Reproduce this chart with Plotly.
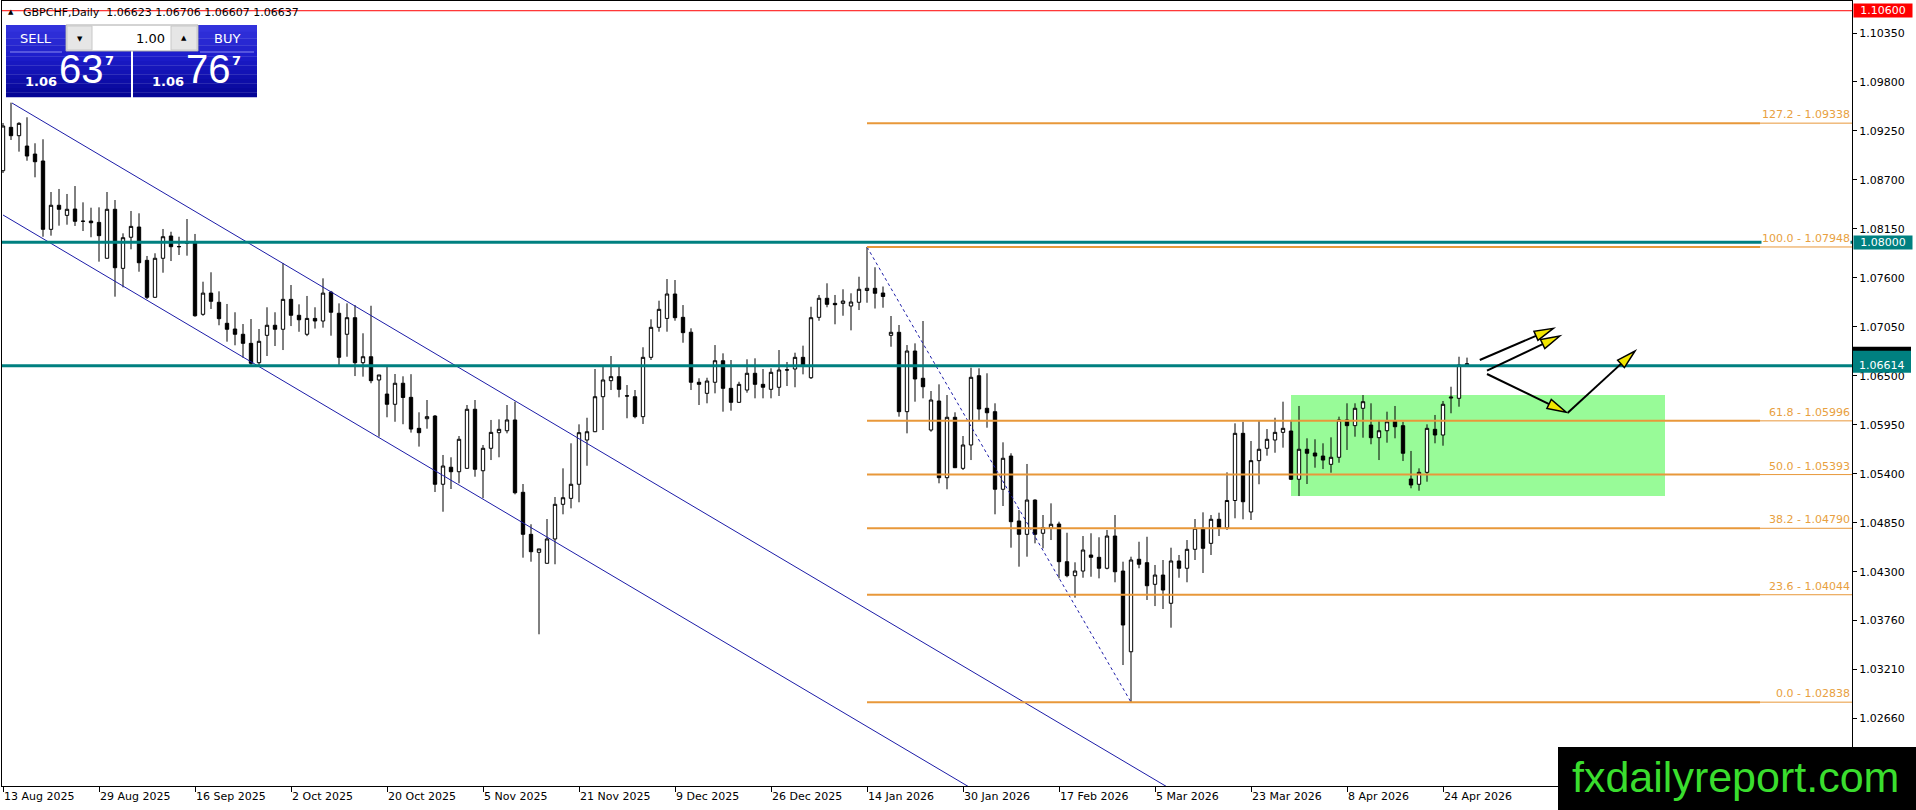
import plotly.graph_objects as go

# ---------------- data ----------------
SYMBOL = "GBPCHF,Daily"
LAST_OHLC = [1.06623, 1.06706, 1.06607, 1.06637]
BID, ASK, LOT = 1.06637, 1.06767, "1.00"

OPEN = [1.08804, 1.09291, 1.09197, 1.09081, 1.08991, 1.08913, 1.08146, 1.08416, 1.08303, 1.08374,
        1.08238, 1.08239, 1.08224, 1.07821, 1.08371, 1.07708, 1.08057, 1.08172, 1.07798, 1.07383,
        1.07821, 1.08071, 1.07953, 1.07989, 1.08007, 1.07192, 1.07430, 1.07327, 1.07091, 1.07027,
        1.06968, 1.06866, 1.06649, 1.06956, 1.07069, 1.07024, 1.07360, 1.07181, 1.06968, 1.07146,
        1.07117, 1.07441, 1.07204, 1.06968, 1.07154, 1.06649, 1.06716, 1.06455, 1.06297, 1.06182,
        1.06418, 1.06260, 1.05912, 1.06020, 1.06050, 1.05284, 1.05475, 1.05425, 1.05463, 1.06126,
        1.05436, 1.05688, 1.05863, 1.05885, 1.06006, 1.05194, 1.04722, 1.04520, 1.04397, 1.04670,
        1.05059, 1.05126, 1.05284, 1.05781, 1.05874, 1.06267, 1.06447, 1.06492, 1.06277, 1.06267,
        1.06043, 1.06709, 1.07046, 1.07146, 1.07420, 1.07158, 1.06991, 1.06429, 1.06305, 1.06429,
        1.06671, 1.06361, 1.06204, 1.06342, 1.06530, 1.06406, 1.06350, 1.06373, 1.06569, 1.06578,
        1.06709, 1.06480, 1.07158, 1.07372, 1.07315, 1.07315, 1.07285, 1.07327, 1.07459, 1.07484,
        1.07431, 1.06956, 1.06990, 1.06099, 1.06780, 1.06474, 1.05893, 1.06219, 1.05358, 1.06036,
        1.05463, 1.05725, 1.06503, 1.06137, 1.06099, 1.05228, 1.05601, 1.04872, 1.04722, 1.05107,
        1.04734, 1.04790, 1.04838, 1.04415, 1.04258, 1.04310, 1.04490, 1.04464, 1.04341, 1.04703,
        1.04310, 1.03404, 1.04442, 1.04404, 1.04161, 1.04265, 1.03948, 1.04423, 1.04341, 1.04554,
        1.04790, 1.04621, 1.04891, 1.04796, 1.05102, 1.05856, 1.04973, 1.05549, 1.05688, 1.05781,
        1.05867, 1.05882, 1.05340, 1.05677, 1.05635, 1.05601, 1.05508, 1.05587, 1.06006, 1.05942,
        1.06137, 1.05949, 1.05807, 1.05885, 1.05994, 1.05942, 1.05343, 1.05284, 1.05418, 1.05901,
        1.05837, 1.06252, 1.06249, 1.06623]
HIGH = [1.09340, 1.09568, 1.09348, 1.09404, 1.09112, 1.09157, 1.08565, 1.08599, 1.08543, 1.08632,
        1.08449, 1.08389, 1.08393, 1.08565, 1.08475, 1.08101, 1.08352, 1.08326, 1.07847, 1.07877,
        1.08150, 1.08119, 1.08063, 1.08262, 1.08094, 1.07558, 1.07664, 1.07450, 1.07308, 1.07215,
        1.07083, 1.07139, 1.07027, 1.07271, 1.07215, 1.07768, 1.07521, 1.07304, 1.07398, 1.07271,
        1.07596, 1.07455, 1.07315, 1.07315, 1.07296, 1.06979, 1.07288, 1.06511, 1.06623, 1.06522,
        1.06496, 1.06520, 1.06092, 1.06230, 1.06061, 1.05613, 1.05587, 1.05826, 1.06174, 1.06230,
        1.05725, 1.06006, 1.06013, 1.06174, 1.06211, 1.05287, 1.04835, 1.04558, 1.04894, 1.05141,
        1.05463, 1.05744, 1.05957, 1.06031, 1.06578, 1.06623, 1.06724, 1.06612, 1.06398, 1.06342,
        1.06822, 1.07136, 1.07345, 1.07588, 1.07577, 1.07296, 1.07035, 1.06474, 1.06480, 1.06847,
        1.06754, 1.06679, 1.06435, 1.06687, 1.06698, 1.06578, 1.06586, 1.06791, 1.06657, 1.06761,
        1.06840, 1.07277, 1.07409, 1.07540, 1.07409, 1.07473, 1.07428, 1.07614, 1.07948, 1.07720,
        1.07504, 1.07173, 1.07072, 1.06847, 1.06866, 1.07117, 1.06331, 1.06406, 1.06286, 1.06092,
        1.05826, 1.06593, 1.06586, 1.06530, 1.06193, 1.05755, 1.05632, 1.04995, 1.05512, 1.05115,
        1.04939, 1.05070, 1.04864, 1.04740, 1.04408, 1.04703, 1.04734, 1.04689, 1.04771, 1.04939,
        1.04415, 1.04471, 1.04639, 1.04695, 1.04378, 1.04434, 1.04572, 1.04490, 1.04658, 1.04894,
        1.04969, 1.04939, 1.04965, 1.05418, 1.05968, 1.05986, 1.05770, 1.05994, 1.05904, 1.06031,
        1.06211, 1.06006, 1.06163, 1.05800, 1.05789, 1.05744, 1.05811, 1.06043, 1.06193, 1.06193,
        1.06286, 1.06193, 1.06006, 1.06099, 1.06163, 1.05986, 1.05658, 1.05463, 1.05957, 1.06062,
        1.06219, 1.06379, 1.06716, 1.06706]
LOW = [1.08778, 1.09149, 1.09018, 1.08916, 1.08730, 1.08063, 1.08075, 1.08187, 1.08198, 1.08184,
       1.08127, 1.08057, 1.07783, 1.07818, 1.07390, 1.07495, 1.07922, 1.07670, 1.07364, 1.07380,
       1.07659, 1.07790, 1.07858, 1.07850, 1.07165, 1.07176, 1.07252, 1.07069, 1.06885, 1.06844,
       1.06705, 1.06620, 1.06620, 1.06724, 1.06836, 1.06791, 1.07060, 1.06996, 1.06947, 1.07032,
       1.07042, 1.06952, 1.06620, 1.06716, 1.06499, 1.06492, 1.06418, 1.05818, 1.06036, 1.05986,
       1.05958, 1.05864, 1.05707, 1.05908, 1.05197, 1.04976, 1.05231, 1.05295, 1.05460, 1.05369,
       1.05127, 1.05556, 1.05587, 1.05856, 1.05171, 1.04460, 1.04415, 1.03600, 1.04395, 1.04386,
       1.04947, 1.05014, 1.05082, 1.05492, 1.05870, 1.05893, 1.06342, 1.06260, 1.06025, 1.06025,
       1.05961, 1.06679, 1.06997, 1.06997, 1.07120, 1.06873, 1.06342, 1.06174, 1.06193, 1.06305,
       1.06099, 1.06110, 1.06200, 1.06312, 1.06249, 1.06249, 1.06249, 1.06275, 1.06387, 1.06373,
       1.06518, 1.06466, 1.07120, 1.07271, 1.07080, 1.07176, 1.07012, 1.07240, 1.07322, 1.07257,
       1.07266, 1.06828, 1.06043, 1.05856, 1.06211, 1.06249, 1.05874, 1.05295, 1.05228, 1.05468,
       1.05444, 1.05556, 1.05998, 1.05919, 1.04947, 1.05040, 1.04572, 1.04359, 1.04471, 1.04621,
       1.04565, 1.04658, 1.04228, 1.04240, 1.04011, 1.04235, 1.04246, 1.04228, 1.04329, 1.04184,
       1.03255, 1.02838, 1.04341, 1.03985, 1.03917, 1.03884, 1.03674, 1.04235, 1.04184, 1.04434,
       1.04288, 1.04490, 1.04703, 1.04771, 1.04902, 1.04891, 1.04883, 1.05284, 1.05605, 1.05638,
       1.05695, 1.05332, 1.05152, 1.05287, 1.05470, 1.05455, 1.05414, 1.05526, 1.05669, 1.05818,
       1.05807, 1.05733, 1.05556, 1.05751, 1.05800, 1.05545, 1.05239, 1.05212, 1.05313, 1.05744,
       1.05717, 1.06081, 1.06155, 1.06607]
CLOSE = [1.09306, 1.09197, 1.09336, 1.08969, 1.08905, 1.08146, 1.08416, 1.08371, 1.08371, 1.08236,
         1.08236, 1.08220, 1.08075, 1.08371, 1.07715, 1.08052, 1.08179, 1.07771, 1.07383, 1.07821,
         1.08063, 1.07951, 1.07951, 1.08007, 1.07176, 1.07430, 1.07338, 1.07143, 1.07024, 1.06968,
         1.06866, 1.06642, 1.06889, 1.07069, 1.07024, 1.07360, 1.07181, 1.07131, 1.07146, 1.07117,
         1.07430, 1.07215, 1.06709, 1.07154, 1.06649, 1.06716, 1.06447, 1.06511, 1.06182, 1.06418,
         1.06258, 1.05904, 1.05863, 1.06043, 1.05284, 1.05489, 1.05425, 1.05789, 1.06126, 1.05452,
         1.05688, 1.05867, 1.05901, 1.06006, 1.05189, 1.04722, 1.04527, 1.04558, 1.04670, 1.05059,
         1.05133, 1.05284, 1.05863, 1.05874, 1.06267, 1.06455, 1.06492, 1.06350, 1.06275, 1.06043,
         1.06709, 1.07046, 1.07248, 1.07420, 1.07154, 1.06986, 1.06429, 1.06406, 1.06443, 1.06671,
         1.06361, 1.06204, 1.06406, 1.06530, 1.06406, 1.06373, 1.06541, 1.06567, 1.06567, 1.06709,
         1.06612, 1.07154, 1.07372, 1.07304, 1.07300, 1.07341, 1.07330, 1.07473, 1.07484, 1.07428,
         1.07392, 1.06990, 1.06099, 1.06780, 1.06466, 1.06379, 1.06230, 1.05358, 1.06036, 1.05470,
         1.05725, 1.06485, 1.06129, 1.06087, 1.05228, 1.05576, 1.04864, 1.04722, 1.05107, 1.04722,
         1.04796, 1.04835, 1.04415, 1.04258, 1.04310, 1.04546, 1.04464, 1.04341, 1.04703, 1.04302,
         1.03704, 1.04434, 1.04386, 1.04145, 1.04265, 1.04097, 1.04423, 1.04341, 1.04554, 1.04790,
         1.04565, 1.04891, 1.04796, 1.05102, 1.05856, 1.05088, 1.05549, 1.05677, 1.05789, 1.05867,
         1.05912, 1.05340, 1.05677, 1.05632, 1.05601, 1.05556, 1.05587, 1.06006, 1.05942, 1.06137,
         1.06211, 1.05807, 1.05885, 1.05986, 1.05930, 1.05632, 1.05276, 1.05418, 1.05912, 1.05837,
         1.06182, 1.06262, 1.06623, 1.06637]

X_TICK_LABELS = ["13 Aug 2025", "29 Aug 2025", "16 Sep 2025", "2 Oct 2025", "20 Oct 2025",
                 "5 Nov 2025", "21 Nov 2025", "9 Dec 2025", "26 Dec 2025", "14 Jan 2026",
                 "30 Jan 2026", "17 Feb 2026", "5 Mar 2026", "23 Mar 2026", "8 Apr 2026",
                 "24 Apr 2026"]
BARS_PER_TICK = 12
Y_TICKS = [1.10350, 1.09800, 1.09250, 1.08700, 1.08150, 1.07600, 1.07050, 1.06500,
           1.05950, 1.05400, 1.04850, 1.04300, 1.03760, 1.03210, 1.02660]

FIB_RATIOS = ["127.2", "100.0", "61.8", "50.0", "38.2", "23.6", "0.0"]
FIB_PRICES = [1.09338, 1.07948, 1.05996, 1.05393, 1.04790, 1.04044, 1.02838]
FIB_HIGH_BAR, FIB_LOW_BAR = 108, 141
TEAL_LEVELS = [1.08000, 1.06614]
RED_LEVEL = 1.10600

CH_UPPER = (1.125, 1.09564)    # anchor bar, price
CH_LOWER = (0.0, 1.08307)
CH_SLOPE = -0.0005317          # price per bar
CH_END_BAR = 170

ZONE = dict(x0=161, x1=207.75, y0=1.05152, y1=1.06286)
ARROWS = [((184.6, 1.06679), (193.8, 1.07035)),
          ((185.5, 1.06559), (194.6, 1.06949)),
          ((185.5, 1.06522), (195.4, 1.06092)),
          ((195.6, 1.06087), (204.0, 1.06780))]

# ---------------- geometry / style ----------------
W, H = 1916, 810
PL, PR, PT, PB = 2, 1852, 1, 786
BAR_PX = 8
X0 = -0.125
X1 = X0 + (PR - PL) / BAR_PX
PX_PER_PRICE = 8908.0
Y_TOP = 1.1035 + (33 - PT) / PX_PER_PRICE
Y_BOT = 1.1035 - (PB - 33) / PX_PER_PRICE

TEAL = "#008080"
ORANGE = "#e8983a"
FIB_TXT = "#e8a040"
BLUE = "#1c1ca8"
FONT = "DejaVu Sans"


def pxx(px):
    return (px - PL) / (PR - PL)


def pxy(py):
    return (PB - py) / (PB - PT)


def d2p(i, p):
    return (PL + (i - X0) * BAR_PX, PT + (Y_TOP - p) * PX_PER_PRICE)


def p2d(px, py):
    return (X0 + (px - PL) / BAR_PX, Y_TOP - (py - PT) / PX_PER_PRICE)


shapes = []
annotations = []


def rect_px(x0, y0, x1, y1, fill, line=None, lw=1, layer="above"):
    shapes.append(dict(type="rect", xref="paper", yref="paper", x0=pxx(x0), x1=pxx(x1),
                       y0=pxy(y0), y1=pxy(y1), fillcolor=fill, layer=layer,
                       line=dict(color=line or fill, width=lw if line else 0)))


def line_px(x0, y0, x1, y1, color, width=1):
    shapes.append(dict(type="line", xref="paper", yref="paper", x0=pxx(x0), x1=pxx(x1),
                       y0=pxy(y0), y1=pxy(y1), layer="above", line=dict(color=color, width=width)))


def text_px(x, y, text, size, color="black", xanchor="center", yanchor="middle",
            family=FONT, bg=None, width=None, align="center"):
    a = dict(xref="paper", yref="paper", x=pxx(x), y=pxy(y), text=text, showarrow=False,
             xanchor=xanchor, yanchor=yanchor, font=dict(family=family, size=size, color=color),
             borderpad=0, align=align)
    if bg:
        a["bgcolor"] = bg
    if width:
        a["width"] = width
    annotations.append(a)


fig = go.Figure()

# zone rectangle (background)
shapes.append(dict(type="rect", xref="x", yref="y", x0=ZONE["x0"], x1=ZONE["x1"],
                   y0=ZONE["y0"], y1=ZONE["y1"], fillcolor="#98fb98", layer="below",
                   line=dict(width=0)))

n = len(OPEN)
fig.add_trace(go.Candlestick(
    x=list(range(n)), open=OPEN, high=HIGH, low=LOW, close=CLOSE,
    increasing=dict(line=dict(color="black", width=1), fillcolor="white"),
    decreasing=dict(line=dict(color="black", width=1), fillcolor="black"),
    whiskerwidth=0, showlegend=False, hoverinfo="skip"))

# channel lines
for (b, p) in (CH_UPPER, CH_LOWER):
    fig.add_trace(go.Scatter(x=[b, CH_END_BAR], y=[p, p + CH_SLOPE * (CH_END_BAR - b)],
                             mode="lines", line=dict(color=BLUE, width=1),
                             showlegend=False, hoverinfo="skip"))
# fib trend line (dotted)
fig.add_trace(go.Scatter(x=[FIB_HIGH_BAR, FIB_LOW_BAR], y=[FIB_PRICES[1], FIB_PRICES[-1]],
                         mode="lines", line=dict(color=BLUE, width=1, dash="dot"),
                         showlegend=False, hoverinfo="skip"))

# horizontal lines
shapes.append(dict(type="line", xref="paper", yref="y", x0=0, x1=1, y0=RED_LEVEL, y1=RED_LEVEL,
                   layer="above", line=dict(color="#ff0000", width=1)))
for p in TEAL_LEVELS:
    shapes.append(dict(type="line", xref="paper", yref="y", x0=0, x1=1, y0=p, y1=p,
                       layer="above", line=dict(color=TEAL, width=3)))
fib_break = p2d(1760, 0)[0]
for r, p in zip(FIB_RATIOS, FIB_PRICES):
    shapes.append(dict(type="line", xref="x", yref="y", x0=FIB_HIGH_BAR, x1=fib_break, y0=p, y1=p,
                       layer="above", line=dict(color=ORANGE, width=2)))
    shapes.append(dict(type="line", xref="x", yref="y", x0=fib_break, x1=X1, y0=p, y1=p,
                       layer="above", line=dict(color=ORANGE, width=1)))
    annotations.append(dict(xref="paper", yref="y", x=pxx(1851), y=p, text=f"{r} - {p:.5f}",
                            showarrow=False, xanchor="right", yanchor="bottom", yshift=1,
                            borderpad=0, bgcolor="white",
                            font=dict(family=FONT, size=11, color=FIB_TXT)))

# arrows
for (s, t) in ARROWS:
    sx, sy = d2p(*s)
    tx, ty = d2p(*t)
    dx, dy = tx - sx, ty - sy
    ln = (dx * dx + dy * dy) ** 0.5
    ux, uy = dx / ln, dy / ln
    hl, hw = 19, 5
    bx, by = tx - ux * hl, ty - uy * hl
    v1 = p2d(bx - uy * hw, by + ux * hw)
    v2 = p2d(bx + uy * hw, by - ux * hw)
    b = p2d(bx, by)
    shapes.append(dict(type="line", xref="x", yref="y", x0=s[0], y0=s[1], x1=b[0], y1=b[1],
                       layer="above", line=dict(color="black", width=2)))
    path = f"M {t[0]},{t[1]} L {v1[0]},{v1[1]} L {v2[0]},{v2[1]} Z"
    shapes.append(dict(type="path", xref="x", yref="y", path=path, fillcolor="#f2e600",
                       layer="above", line=dict(color="black", width=1.5)))

# header text
text_px(22, 12.5, f"{SYMBOL}  " + " ".join(f"{v:.5f}" for v in LAST_OHLC), 11,
        xanchor="left")
text_px(11, 12, "▲", 7)


# trade panel
def gradient(x0, y0, x1, y1, c0, c1, steps=10):
    for k in range(steps):
        f = k / (steps - 1)
        c = tuple(int(round(a + (b - a) * f)) for a, b in zip(c0, c1))
        ya = y0 + (y1 - y0) * k / steps
        yb = y0 + (y1 - y0) * (k + 1) / steps
        rect_px(x0, ya, x1, yb + 0.3, f"rgb{c}")


gradient(6, 25, 131, 52, (50, 50, 220), (35, 35, 205), 4)
gradient(133, 25, 257, 52, (50, 50, 220), (35, 35, 205), 4)
gradient(6, 52, 131, 97, (30, 30, 205), (5, 5, 150), 10)
gradient(133, 52, 257, 97, (30, 30, 205), (5, 5, 150), 10)
line_px(10, 52, 62, 52, "#8a8af0", 1)
line_px(200, 52, 254, 52, "#8a8af0", 1)
rect_px(66, 25, 198, 51, "#ffffff", "#a8a8a8", 1)
rect_px(67, 26, 92, 50, "#e6e6e6", "#c8c8c8", 1)
rect_px(171, 26, 197, 50, "#e6e6e6", "#c8c8c8", 1)
text_px(36, 39, "SELL", 13, "white")
text_px(227, 39, "BUY", 13, "white")
text_px(166, 38.5, LOT, 13, "black", xanchor="right")
text_px(80, 39, "▼", 7)
text_px(184, 38, "▲", 7)
bs, as_ = f"{BID:.5f}", f"{ASK:.5f}"
for x_off, s in ((0, bs), (127, as_)):
    text_px(41 + x_off, 82, f"<b>{s[:4]}</b>", 13, "white")
    text_px(81 + x_off, 69, s[4:6], 40, "white", family="Liberation Sans")
    text_px(109 + x_off, 61, f"<b>{s[6]}</b>", 13, "white")

# price labels on the axis
text_px(1853, 10.5, f"{RED_LEVEL:.5f}", 11, "white", xanchor="left", bg="#ff0000", width=58)
_, py80 = d2p(0, TEAL_LEVELS[0])
text_px(1853, py80, f"{TEAL_LEVELS[0]:.5f}", 11, "white", xanchor="left", bg=TEAL, width=58)
_, py66 = d2p(0, TEAL_LEVELS[1])
rect_px(1853, py66 - 19, 1911, py66 - 14, "black")
rect_px(1853, py66 - 15, 1911, py66 + 7, TEAL)
text_px(1882, py66, f"{TEAL_LEVELS[1]:.5f}", 11, "white")

# logo
rect_px(1558, 747, 1916, 810, "black")
text_px(1735, 777, "fxdailyreport.com", 43, "#3ade2e", family="Liberation Sans")

fig.update_layout(
    width=W, height=H, margin=dict(l=PL, r=W - PR, t=PT, b=H - PB),
    paper_bgcolor="white", plot_bgcolor="white", boxgap=0.4,
    shapes=shapes, annotations=annotations, showlegend=False,
    xaxis=dict(range=[X0, X1], tickvals=[k * BARS_PER_TICK for k in range(len(X_TICK_LABELS))],
               ticktext=X_TICK_LABELS, ticks="outside", ticklen=5, tickcolor="black",
               showline=True, linecolor="black", linewidth=1, mirror=True, showgrid=False,
               zeroline=False, ticklabelposition="outside right", rangeslider=dict(visible=False),
               tickfont=dict(family=FONT, size=11, color="black")),
    yaxis=dict(range=[Y_BOT, Y_TOP], side="right", tickvals=Y_TICKS,
               ticktext=[f"{v:.5f}" for v in Y_TICKS], ticks="outside", ticklen=4,
               tickcolor="black", showline=True, linecolor="black", linewidth=1, mirror=True,
               showgrid=False, zeroline=False, tickfont=dict(family=FONT, size=11, color="black")),
)

fig.write_html("out.html", config={"displayModeBar": False},
               post_script="document.body.style.margin='0';document.body.style.overflow='hidden';")
